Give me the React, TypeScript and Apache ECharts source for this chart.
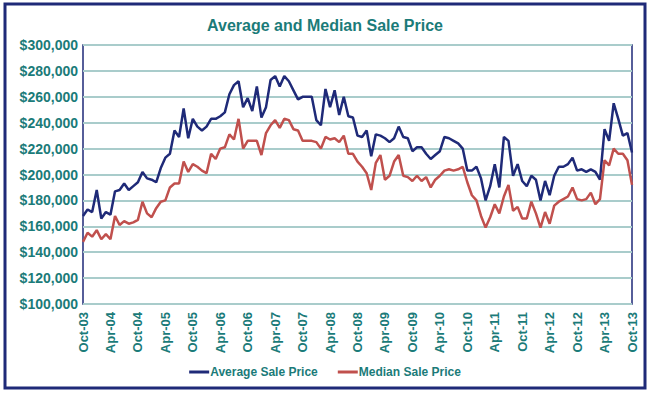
import React, { useEffect, useRef } from "react";
import * as echarts from "echarts";

const averagePrice = [
  168, 173, 171, 188, 166, 171, 169, 187, 188, 193, 188, 191, 194, 202, 197, 196, 194, 205, 213, 216, 234,
  229, 251, 228, 243, 237, 234, 237, 243, 243, 245, 248, 262, 269, 272, 252, 259, 249, 268, 244, 252,
  273, 276, 268, 276, 272, 265, 258, 260, 260, 260, 242, 238, 266, 252, 265, 246, 260, 245, 244, 230,
  229, 234, 214, 231, 230, 228, 225, 228, 237, 229, 228, 218, 221, 221, 216, 212, 215, 218, 229, 228,
  226, 224, 220, 203, 203, 206, 197, 180, 191, 208, 190, 229, 226, 199, 208, 195, 191, 199, 196, 180,
  195, 184, 199, 206, 206, 208, 213, 203, 204, 202, 204, 202, 196, 235, 226, 255, 243, 230, 232, 217,
];

const medianPrice = [
  148, 155, 152, 157, 150, 154, 150, 168, 161, 164, 162, 163, 165, 179, 170, 167, 174, 179, 180, 190, 193,
  193, 210, 202, 208, 206, 203, 201, 216, 212, 220, 221, 231, 227, 243, 220, 226, 226, 226, 215, 232,
  238, 242, 236, 243, 242, 235, 234, 226, 226, 226, 225, 220, 229, 227, 228, 225, 230, 216, 216, 210,
  206, 201, 188, 209, 215, 196, 199, 210, 215, 199, 198, 195, 199, 195, 198, 190, 196, 199, 203, 204,
  203, 204, 206, 194, 184, 180, 168, 159, 167, 177, 170, 183, 192, 172, 175, 166, 166, 179, 170, 159,
  171, 162, 176, 179, 181, 183, 190, 181, 180, 181, 186, 177, 181, 211, 207, 220, 216, 216, 211, 192,
];

const monthNames = ["Jan", "Feb", "Mar", "Apr", "May", "Jun", "Jul", "Aug", "Sep", "Oct", "Nov", "Dec"];
const startYear = 2003;
const startMonth = 9; // October
const categories: string[] = averagePrice.map((_, i) => {
  const m = (startMonth + i) % 12;
  const y = startYear + Math.floor((startMonth + i) / 12);
  return `${monthNames[m]}-${String(y % 100).padStart(2, "0")}`;
});

const TEAL = "#1b7b79";
const NAVY = "#1f2a78";
const RED = "#c0504d";
const FONT = "'Liberation Sans', Arial, sans-serif";

export default function App() {
  const ref = useRef<HTMLDivElement>(null);
  useEffect(() => {
    document.body.style.margin = "0";
    if (!ref.current) return;
    const chart = echarts.init(ref.current, undefined, { renderer: "svg" });
    chart.setOption({
      animation: false,
      backgroundColor: "#ffffff",
      title: {
        text: "Average and Median Sale Price",
        left: "center",
        top: 12,
        textStyle: { color: TEAL, fontSize: 16, fontWeight: "bold", fontFamily: FONT },
      },
      legend: {
        bottom: 13,
        left: "center",
        itemWidth: 20,
        itemHeight: 3,
        itemGap: 20,
        icon: "rect",
        textStyle: { color: TEAL, fontSize: 12, fontWeight: "bold", fontFamily: FONT, padding: [0, 0, 0, -4] },
        data: ["Average Sale Price", "Median Sale Price"],
      },
      grid: {
        left: 83,
        right: 18,
        top: 45,
        bottom: 92,
        show: true,
        borderColor: NAVY,
        borderWidth: 1.5,
        backgroundColor: "transparent",
      },
      xAxis: {
        type: "category",
        data: categories,
        boundaryGap: false,
        axisLine: { show: false },
        axisTick: { show: false },
        axisLabel: {
          interval: 5,
          rotate: 90,
          color: TEAL,
          fontSize: 13,
          fontWeight: "bold",
          fontFamily: FONT,
          margin: 8,
        },
        splitLine: { show: false },
      },
      yAxis: {
        type: "value",
        min: 100,
        max: 300,
        interval: 20,
        axisLine: { show: false },
        axisTick: { show: false },
        axisLabel: {
          color: TEAL,
          fontSize: 14,
          fontWeight: "bold",
          fontFamily: FONT,
          margin: 5,
          formatter: (v: number) => "$" + v + ",000",
        },
        splitLine: { lineStyle: { color: "#a9cccb", width: 2 } },
      },
      series: [
        {
          name: "Average Sale Price",
          type: "line",
          data: averagePrice,
          showSymbol: false,
          lineStyle: { color: NAVY, width: 2.5 },
          itemStyle: { color: NAVY },
        },
        {
          name: "Median Sale Price",
          type: "line",
          data: medianPrice,
          showSymbol: false,
          lineStyle: { color: RED, width: 2.5 },
          itemStyle: { color: RED },
        },
      ],
      graphic: [
        {
          type: "rect",
          shape: { x: 5, y: 4, width: 640, height: 384 },
          style: { fill: "none", stroke: NAVY, lineWidth: 3 },
          silent: true,
        },
      ],
    });
    return () => chart.dispose();
  }, []);
  return <div ref={ref} style={{ width: 650, height: 396 }} />;
}
